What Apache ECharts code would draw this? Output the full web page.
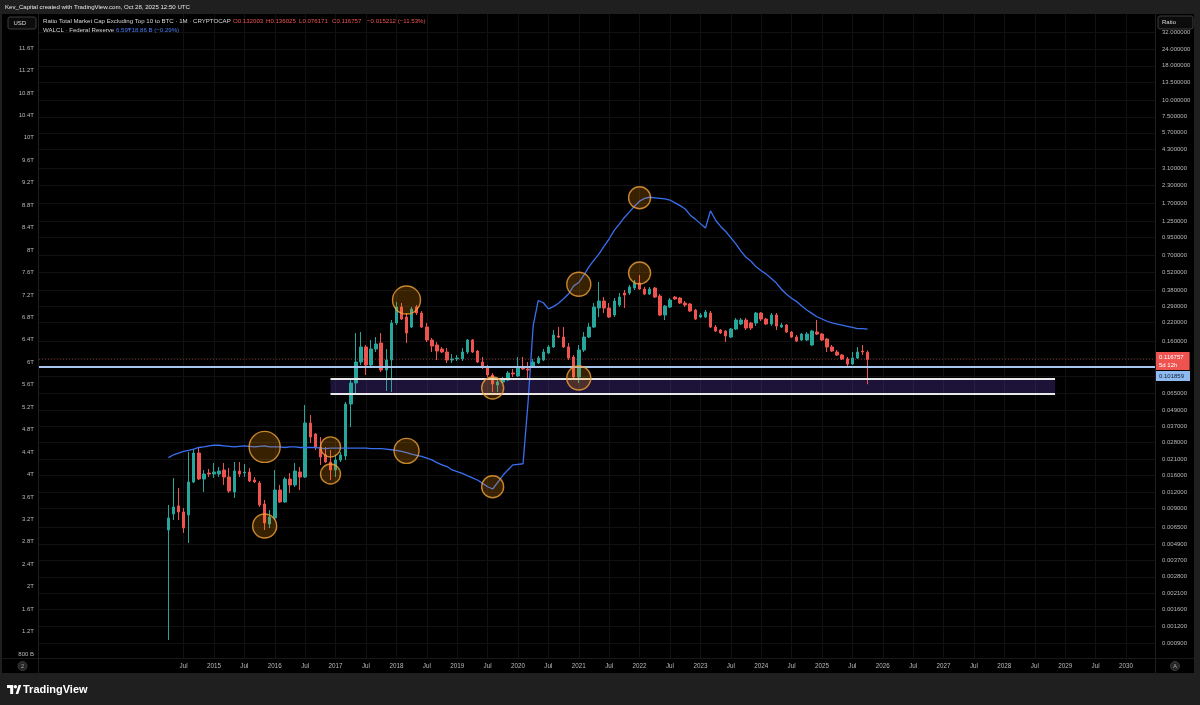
<!DOCTYPE html>
<html><head><meta charset="utf-8">
<script src="https://cdn.jsdelivr.net/npm/echarts@6/dist/echarts.min.js"></script>
<style>html,body{margin:0;padding:0;background:#000;}#chart{width:1200px;height:705px;}</style>
</head><body><div id="chart"></div>
<script>
// ---------- data ----------
const firstMonth = '2014-04';
const ratioOpen = [
  0.00625,0.00823,0.00944,0.00851,0.00809,0.01424,0.02341,0.01499,0.01661,
  0.01633,0.01633,0.01749,0.01551,0.01199,0.01719,0.01661,0.01690,0.01474,0.01400,0.00977,0.00693,
  0.00768,0.01241,0.01011,0.01499,0.01353,0.01690,0.01551,0.03918,0.03244,0.02596,0.02262,0.02007,
  0.01749,0.02077,0.02224,0.05428,0.07784,0.1116,0.1444,0.1060,0.1395,0.1546,0.09729,0.1155,
  0.2179,0.2867,0.2415,0.2034,0.2867,0.2586,0.2034,0.1628,0.1494,0.1395,0.1325,0.1155,
  0.1175,0.1175,0.1325,0.1628,0.1348,0.1116,0.1024,0.08929,0.07521,0.07919,0.08195,0.09241,
  0.08777,0.1024,0.0990,0.1024,0.1097,0.1155,0.1302,0.1444,0.1743,0.1713,0.1444,0.1216,
  0.08628,0.1371,0.1713,0.2034,0.2818,0.3178,0.2818,0.2499,0.2967,0.3646,0.3646,0.3972,
  0.4328,0.3905,0.3584,0.3972,0.3463,0.2499,0.2867,0.3404,0.3347,0.3071,0.3019,0.2723,
  0.2415,0.2415,0.2586,0.2034,0.1932,0.1899,0.1713,0.1966,0.2142,0.2294,0.2179,0.2179,
  0.2586,0.2333,0.2142,0.2499,0.2034,0.2105,0.1867,0.1713,0.1628,0.1628,0.1494,0.1867,
  0.1804,0.1656,0.1444,0.1325,0.1258,0.1175,0.1078,0.1195,0.1348,0.132003
];
const ratioClose = [
  0.00768,0.00928,0.00851,0.00647,0.01424,0.02341,0.01499,0.01633,0.01633,
  0.01690,0.01719,0.01551,0.01220,0.01719,0.01633,0.01690,0.01449,0.01424,0.00960,0.00705,0.00781,
  0.01241,0.01011,0.01499,0.01353,0.01719,0.01551,0.03918,0.03082,0.02596,0.02186,0.02007,0.01749,
  0.02077,0.02262,0.05428,0.07784,0.1116,0.1444,0.1060,0.1395,0.1520,0.09729,0.1155,0.2179,
  0.2867,0.2333,0.1835,0.2770,0.2586,0.2034,0.1628,0.1469,0.1348,0.1325,0.1155,0.1175,
  0.1195,0.1325,0.1628,0.1325,0.1116,0.1024,0.08929,0.07651,0.07919,0.08337,0.09241,0.09084,
  0.1024,0.0990,0.09729,0.1116,0.1195,0.1325,0.1444,0.1773,0.1713,0.1444,0.1195,0.08628,
  0.1371,0.1713,0.2034,0.2867,0.3178,0.2818,0.2415,0.3178,0.3404,0.3523,0.4041,0.4328,
  0.3905,0.3584,0.3905,0.3404,0.2499,0.2917,0.3233,0.3290,0.3071,0.2967,0.2677,0.2333,
  0.2499,0.2631,0.2034,0.1899,0.1835,0.1743,0.1966,0.2294,0.2294,0.2000,0.2000,0.2586,
  0.2333,0.2142,0.2499,0.2070,0.2105,0.1867,0.1713,0.1600,0.1804,0.1804,0.1899,0.1804,
  0.1628,0.1444,0.1348,0.1258,0.1175,0.1078,0.1195,0.1325,0.1325,0.116757
];
const ratioLow = [
  0.000947,0.00742,0.00742,0.00594,0.00500,0.01400,0.01474,0.01199,0.01551,
  0.01525,0.01551,0.01353,0.01179,0.01082,0.01551,0.01551,0.01424,0.01400,0.00928,0.00625,0.00647,
  0.00742,0.00994,0.00994,0.01179,0.01307,0.01241,0.01525,0.02780,0.02465,0.01906,0.01973,0.01474,
  0.01551,0.02007,0.02077,0.03658,0.06335,0.1060,0.08929,0.1024,0.1325,0.09401,0.06786,0.06670,
  0.2105,0.2294,0.1546,0.2000,0.2499,0.2000,0.1573,0.1325,0.1155,0.1302,0.1097,0.1097,
  0.1135,0.1135,0.1280,0.1302,0.1097,0.0990,0.08628,0.06670,0.06670,0.07784,0.08056,0.08628,
  0.08628,0.09729,0.08481,0.1007,0.1078,0.1135,0.1280,0.1419,0.1684,0.1419,0.1155,0.08195,
  0.07784,0.1325,0.1684,0.2000,0.2415,0.2586,0.2374,0.2415,0.2867,0.2818,0.3523,0.3839,
  0.3839,0.3523,0.3523,0.3347,0.2457,0.2294,0.2818,0.3233,0.3019,0.2867,0.2631,0.2294,
  0.2374,0.2374,0.2000,0.1867,0.1804,0.1573,0.1684,0.1932,0.2105,0.1932,0.1932,0.2070,
  0.2255,0.2105,0.2070,0.1932,0.2000,0.1835,0.1684,0.1573,0.1600,0.1600,0.1469,0.1773,
  0.1600,0.1325,0.1325,0.1237,0.1155,0.1042,0.1060,0.1175,0.1258,0.076171
];
const ratioHigh = [
  0.00960,0.01525,0.01285,0.00912,0.02382,0.02508,0.02552,0.01749,0.01780,
  0.01973,0.01842,0.01973,0.01811,0.02007,0.02007,0.01939,0.01811,0.01551,0.01449,0.01046,0.00881,
  0.01749,0.01353,0.01551,0.01661,0.01973,0.01842,0.05336,0.04495,0.03301,0.03082,0.02596,0.02465,
  0.02262,0.02382,0.05618,0.08195,0.1835,0.1867,0.1494,0.1628,0.1713,0.1835,0.1395,0.2294,
  0.3124,0.3071,0.2586,0.2867,0.2967,0.2677,0.2179,0.1684,0.1573,0.1444,0.1419,0.1280,
  0.1258,0.1419,0.1656,0.1656,0.1371,0.1216,0.1060,0.09241,0.08481,0.08628,0.09563,0.0990,
  0.1216,0.1216,0.1116,0.1175,0.1237,0.1395,0.1494,0.1932,0.2034,0.2034,0.1546,0.1258,
  0.1494,0.1867,0.2179,0.3071,0.4403,0.3404,0.3071,0.3347,0.3646,0.3839,0.4182,0.4557,
  0.4966,0.4041,0.4041,0.4041,0.3584,0.2967,0.3347,0.3463,0.3404,0.3178,0.3071,0.2770,
  0.2586,0.2723,0.2677,0.2105,0.1966,0.1932,0.2000,0.2374,0.2374,0.2374,0.2217,0.2631,
  0.2631,0.2374,0.2586,0.2586,0.2179,0.2142,0.1899,0.1773,0.1835,0.1867,0.1932,0.2294,
  0.1835,0.1684,0.1494,0.1371,0.1280,0.1216,0.1325,0.1444,0.1494,0.136025
];
// Federal Reserve total assets (WALCL), trillions USD, monthly
const walcl = [
  4.30,4.35,4.38,4.41,4.43,4.45,4.48,4.49,4.51,
  4.52,4.52,4.51,4.50,4.49,4.50,4.51,4.50,4.49,4.50,4.51,4.49,
  4.49,4.49,4.48,4.49,4.49,4.48,4.48,4.48,4.48,4.47,4.46,4.47,
  4.47,4.47,4.47,4.47,4.47,4.47,4.47,4.46,4.46,4.46,4.45,4.44,
  4.43,4.41,4.39,4.36,4.34,4.32,4.29,4.26,4.21,4.17,4.14,4.08,
  4.05,4.02,3.98,3.94,3.90,3.84,3.78,3.74,3.86,3.98,4.08,4.17,
  4.18,4.19,5.30,6.65,7.10,7.06,6.95,6.99,7.05,7.13,7.22,7.36,
  7.42,7.55,7.70,7.82,7.93,8.07,8.20,8.35,8.46,8.58,8.68,8.78,
  8.87,8.92,8.94,8.93,8.92,8.91,8.89,8.84,8.79,8.73,8.62,8.55,
  8.47,8.39,8.70,8.53,8.42,8.33,8.22,8.11,7.98,7.87,7.80,7.70,
  7.63,7.57,7.49,7.41,7.30,7.21,7.14,7.08,7.00,6.93,6.87,6.81,
  6.77,6.73,6.70,6.68,6.66,6.64,6.62,6.60,6.60,6.59
];
// tick labels
const timeTicks = ['2014-07','2015-01','2015-07','2016-01','2016-07','2017-01','2017-07','2018-01','2018-07',
  '2019-01','2019-07','2020-01','2020-07','2021-01','2021-07','2022-01','2022-07','2023-01','2023-07',
  '2024-01','2024-07','2025-01','2025-07','2026-01','2026-07','2027-01','2027-07','2028-01','2028-07',
  '2029-01','2029-07','2030-01'];
const walclTicks = [0.8,1.2,1.6,2,2.4,2.8,3.2,3.6,4,4.4,4.8,5.2,5.6,6,6.4,6.8,7.2,7.6,8,8.4,8.8,9.2,9.6,10,10.4,10.8,11.2,11.6];
const ratioLabelTicks = [32,24,18,13.5,10,7.5,5.7,4.3,3.1,2.3,1.7,1.25,0.95,0.7,0.52,0.38,0.29,0.22,0.16,
  0.065,0.049,0.037,0.028,0.021,0.016,0.012,0.009,0.0065,0.0049,0.0037,0.0028,0.0021,0.0016,0.0012,0.0009];
const ratioHiddenTicks = [0.12,0.088];
// drawings
const hLevel = 0.101859;
const zoneTop = 0.0834, zoneBottom = 0.06445, zoneStart = '2016-12', zoneEnd = '2028-11';
const walclCircleMonths = ['2015-11','2016-12','2018-03','2019-08','2021-01','2022-01'];
const walclCircleValues = [4.49,4.49,4.42,3.78,7.39,8.93];
const walclCircleRadii = [15.5,10,12.5,11,12,11];
const ratioCircleMonths = ['2015-11','2016-12','2018-03','2019-08','2021-01','2022-01'];
const ratioCircleValues = [0.00669,0.01633,0.3233,0.07144,0.08481,0.514];
const ratioCircleRadii = [12,10,14,11,12,11];

// ---------- helpers ----------
const FONT = '"Liberation Sans", Arial, sans-serif';
const LABEL = '#b8b8b8';
const GRID = '#111111';
function monthIdx(s){ const p = s.split('-').map(Number); return (p[0]-2012)*12 + (p[1]-1); }
const lg = Math.log10;
const candleMonths = [];
{ let [y,m] = firstMonth.split('-').map(Number);
  for (let i=0;i<ratioOpen.length;i++){ candleMonths.push(y+'-'+String(m).padStart(2,'0')); m++; if(m>12){m=1;y++;} } }
const candleData = candleMonths.map((mo,i)=>[monthIdx(mo), lg(ratioOpen[i]), lg(ratioClose[i]), lg(ratioLow[i]), lg(ratioHigh[i])]);
const walclData = candleMonths.map((mo,i)=>[monthIdx(mo), walcl[i]]);
const walclCircles = walclCircleMonths.map((mo,i)=>[monthIdx(mo), walclCircleValues[i], walclCircleRadii[i]]);
const ratioCircles = ratioCircleMonths.map((mo,i)=>[monthIdx(mo), lg(ratioCircleValues[i]), ratioCircleRadii[i]]);
const lastClose = ratioClose[ratioClose.length-1];
const lastWalcl = walcl[walcl.length-1];
const ratioLabelLog = ratioLabelTicks.map(lg);
const ratioGridLog = ratioLabelTicks.concat(ratioHiddenTicks).map(lg);

function fmtRatio(v){ const t = ratioLabelTicks.find(t=>Math.abs(lg(t)-v)<1e-9); return t!=null ? t.toFixed(6) : ''; }
function fmtWalcl(v){ return v<1 ? Math.round(v*1000)+' B' : v+'T'; }
function fmtTime(v){ const i=Math.round(v); return i%12===0 ? String(2012+i/12) : 'Jul'; }

function txt(x,y,text,fill,size,extra){
  return Object.assign({type:'text', x:x, y:y, z:100, silent:true,
    style:{text:text, fill:fill, font:(size||6)+'px '+FONT, align:'left', verticalAlign:'middle'}}, extra||{});
}

const chart = echarts.init(document.getElementById('chart'), null, {renderer:'canvas'});
const option = {
  backgroundColor:'#000000',
  animation:false,
  grid:{left:39, right:45, top:14, bottom:47, containLabel:false, outerBoundsMode:'none', show:false},
  xAxis:{
    type:'value', min:1.46, max:221.73,
    axisLine:{show:false},
    axisTick:{show:false, customValues: timeTicks.map(monthIdx)},
    axisLabel:{customValues: timeTicks.map(monthIdx), formatter: fmtTime, color:LABEL, fontSize:6.3, fontFamily:FONT, margin:5},
    splitLine:{show:true, lineStyle:{color:GRID, width:1}}
  },
  yAxis:[
    {type:'value', position:'left', min:0.728, max:12.206,
     axisLine:{show:false}, axisTick:{show:false}, splitLine:{show:false},
     axisLabel:{customValues: walclTicks, formatter: fmtWalcl, color:LABEL, fontSize:6, fontFamily:FONT, margin:5}},
    {type:'value', position:'right', min:-3.158, max:1.641,
     axisLine:{show:false}, axisTick:{show:false, customValues: ratioGridLog},
     splitLine:{show:true, lineStyle:{color:GRID, width:1}},
     axisLabel:{customValues: ratioLabelLog, formatter: fmtRatio, color:LABEL, fontSize:6, fontFamily:FONT, margin:7}}
  ],
  series:[
    {
      type:'candlestick', name:'Ratio', xAxisIndex:0, yAxisIndex:1, data:candleData,
      barWidth:3, silent:true, z:2,
      itemStyle:{color:'#26a69a', color0:'#ef5350', borderColor:'#26a69a', borderColor0:'#ef5350', borderWidth:1},
      markArea:{silent:true, itemStyle:{color:'rgba(90,58,175,0.32)'},
        data:[[{coord:[monthIdx(zoneStart), lg(zoneTop)]},{coord:[monthIdx(zoneEnd), lg(zoneBottom)]}]]},
      markLine:{silent:true, symbol:['none','none'], animation:false,
        data:[
          {yAxis: lg(lastClose), lineStyle:{color:'rgba(239,83,80,0.42)', type:[1,2], width:1},
           label:{show:true, position:'end', distance:1, offset:[0,2], formatter: lastClose.toFixed(6)+'\n5d 12h',
             backgroundColor:'#ef5350', color:'#ffffff', fontSize:6, lineHeight:8, fontFamily:FONT, padding:[1,6,1,3]}},
          {yAxis: lg(hLevel), lineStyle:{color:'#a8c7ef', type:'solid', width:2},
           label:{show:true, position:'end', distance:1, offset:[0,9], formatter: hLevel.toFixed(6),
             backgroundColor:'#8fbaf0', color:'#0d1b33', fontSize:6, lineHeight:8, fontFamily:FONT, padding:[1,6,1,3]}},
          [{coord:[monthIdx(zoneStart), lg(zoneTop)], lineStyle:{color:'#e8e8e8', width:2, type:'solid'}, label:{show:false}},
           {coord:[monthIdx(zoneEnd), lg(zoneTop)]}],
          [{coord:[monthIdx(zoneStart), lg(zoneBottom)], lineStyle:{color:'#e8e8e8', width:2, type:'solid'}, label:{show:false}},
           {coord:[monthIdx(zoneEnd), lg(zoneBottom)]}]
        ]}
    },
    {
      type:'line', name:'WALCL', xAxisIndex:0, yAxisIndex:0, data:walclData, symbol:'none', silent:true, z:3,
      lineStyle:{color:'#3a6ff0', width:1.3},
      markLine:{silent:true, symbol:['none','none'], animation:false,
        data:[{yAxis:lastWalcl, lineStyle:{opacity:0},
          label:{show:true, position:'start', distance:2, formatter: lastWalcl+'T',
            backgroundColor:'#2962ff', color:'#ffffff', fontSize:6, fontFamily:FONT, padding:[2,3,1,3]}}]}
    },
    {
      type:'scatter', xAxisIndex:0, yAxisIndex:0, data:walclCircles, symbol:'circle', silent:true, z:5,
      symbolSize:function(v){return v[2]*2;},
      itemStyle:{color:'rgba(255,152,0,0.27)', borderColor:'#f2a33a', borderWidth:1.4}
    },
    {
      type:'scatter', xAxisIndex:0, yAxisIndex:1, data:ratioCircles, symbol:'circle', silent:true, z:5,
      symbolSize:function(v){return v[2]*2;},
      itemStyle:{color:'rgba(255,152,0,0.27)', borderColor:'#f2a33a', borderWidth:1.4}
    }
  ],
  graphic:[
    {type:'rect', z:50, silent:true, shape:{x:0,y:0,width:1200,height:14}, style:{fill:'#1f1f1f'}},
    {type:'rect', z:50, silent:true, shape:{x:0,y:673,width:1200,height:32}, style:{fill:'#1f1f1f'}},
    {type:'rect', z:50, silent:true, shape:{x:1194,y:0,width:6,height:705}, style:{fill:'#1f1f1f'}},
    {type:'rect', z:50, silent:true, shape:{x:0,y:0,width:2,height:705}, style:{fill:'#1f1f1f'}},
    {type:'line', z:50, silent:true, shape:{x1:38.5,y1:14,x2:38.5,y2:673}, style:{stroke:'#1e1e1e', lineWidth:1}},
    {type:'line', z:50, silent:true, shape:{x1:1155.5,y1:14,x2:1155.5,y2:673}, style:{stroke:'#1e1e1e', lineWidth:1}},
    {type:'line', z:50, silent:true, shape:{x1:2,y1:658.5,x2:1194,y2:658.5}, style:{stroke:'#181818', lineWidth:1}},
    txt(5,7,'Kev_Capital created with TradingView.com, Oct 28, 2025 12:50 UTC','#e6e6e6',6.1),
    {type:'rect', z:100, silent:true, shape:{x:8,y:17,width:28,height:12,r:2}, style:{fill:'#0c0c0c', stroke:'#3d3d3d', lineWidth:1}},
    txt(13.5,23.2,'USD','#dddddd',6),
    {type:'rect', z:100, silent:true, shape:{x:1158,y:16,width:35,height:13,r:2}, style:{fill:'#0c0c0c', stroke:'#3d3d3d', lineWidth:1}},
    txt(1162,22.7,'Ratio','#dddddd',6),
    txt(43,21,'Ratio Total Market Cap Excluding Top 10 to BTC · 1M · CRYPTOCAP','#d6d6d6',6.1),
    txt(233,21,'O0.132003','#ef5350',6.1),
    txt(266,21,'H0.136025','#ef5350',6.1),
    txt(299,21,'L0.076171','#ef5350',6.1),
    txt(332,21,'C0.116757','#ef5350',6.1),
    txt(367,21,'−0.015212 (−11.53%)','#ef5350',6.1),
    txt(43,30.5,'WALCL · Federal Reserve','#d6d6d6',6.1),
    txt(116,30.5,'6.59T','#4a7ef5',6.1),
    txt(128,30.5,'−18.86 B (−0.29%)','#4a7ef5',6.1),
    {type:'circle', z:100, silent:true, shape:{cx:22.5,cy:666,r:4.5}, style:{fill:'#262626', stroke:'#3a3a3a'}},
    txt(21,666.3,'2','#aaaaaa',5.5),
    {type:'circle', z:100, silent:true, shape:{cx:1175,cy:666,r:4.5}, style:{fill:'#262626', stroke:'#3a3a3a'}},
    txt(1173.2,666.3,'A','#aaaaaa',5.5),
    {type:'polygon', z:100, silent:true, shape:{points:[[7,685],[13.2,685],[13.2,694],[10.2,694],[10.2,688],[7,688]]}, style:{fill:'#ffffff'}},
    {type:'circle', z:100, silent:true, shape:{cx:15.4,cy:686.8,r:1.7}, style:{fill:'#ffffff'}},
    {type:'polygon', z:100, silent:true, shape:{points:[[15.6,694],[18.6,685],[21.2,685],[18.2,694]]}, style:{fill:'#ffffff'}},
    {type:'text', z:100, silent:true, x:23, y:689.8, style:{text:'TradingView', fill:'#ffffff', font:'bold 11px '+FONT, align:'left', verticalAlign:'middle'}}
  ]
};
chart.setOption(option);
</script>
</body></html>
